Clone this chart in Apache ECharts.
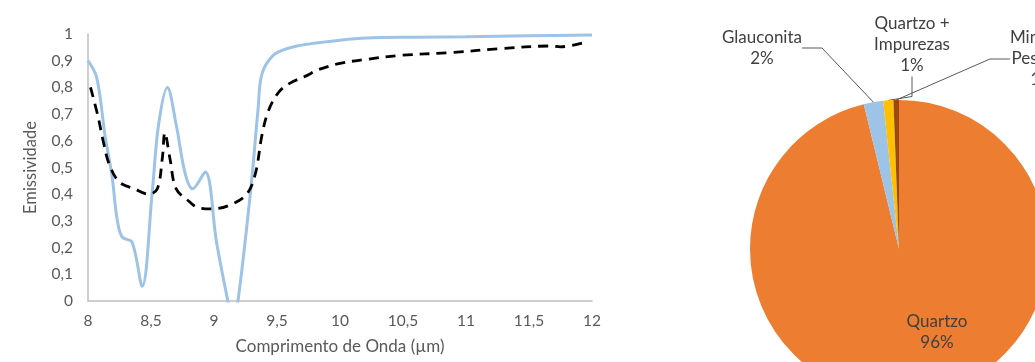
<!DOCTYPE html>
<html>
<head>
<meta charset="utf-8">
<script src="https://cdn.jsdelivr.net/npm/echarts@6/dist/echarts.min.js"></script>
<style>
html,body{margin:0;padding:0;background:#fff;}
#c{width:1035px;height:362px;}
</style>
</head>
<body>
<div id="c"></div>
<script>
// Line chart data (wavelength in µm, emissivity)
const solidX = [8.00, 8.07, 8.135, 8.19, 8.23, 8.27, 8.35, 8.43, 8.51, 8.56, 8.63, 8.70, 8.77, 8.83, 8.93, 9.02, 9.11, 9.15, 9.19, 9.29, 9.35, 9.38, 9.47, 9.60, 9.76, 10.0, 10.21, 10.6, 11.0, 11.5, 12.0];
const solidY = [0.90, 0.835, 0.62, 0.47, 0.31, 0.24, 0.22, 0.055, 0.41, 0.66, 0.80, 0.66, 0.48, 0.42, 0.483, 0.22, 0.00, -0.08, 0.00, 0.41, 0.72, 0.85, 0.92, 0.948, 0.963, 0.977, 0.985, 0.988, 0.99, 0.993, 0.996];
const dashX = [8.02, 8.08, 8.12, 8.17, 8.25, 8.37, 8.48, 8.55, 8.59, 8.61, 8.65, 8.70, 8.81, 8.87, 8.99, 9.13, 9.26, 9.33, 9.38, 9.43, 9.51, 9.60, 9.74, 9.82, 10.0, 10.21, 10.48, 10.87, 11.27, 11.67, 11.75, 11.95];
const dashY = [0.80, 0.69, 0.60, 0.51, 0.445, 0.42, 0.40, 0.42, 0.535, 0.63, 0.535, 0.42, 0.37, 0.35, 0.345, 0.36, 0.40, 0.48, 0.62, 0.71, 0.78, 0.815, 0.845, 0.865, 0.89, 0.905, 0.92, 0.93, 0.945, 0.955, 0.952, 0.97];
const xTicks = [8, 8.5, 9, 9.5, 10, 10.5, 11, 11.5, 12];

// Pie chart data
const pieNames = ['Quartzo', 'Glauconita', 'Quartzo +\nImpurezas', 'Minerais\nPesados'];
const pieValues = [96.3, 2.1, 1.1, 0.6];
const pieColors = ['#ED7D31', '#9DC3E6', '#FFC000', '#9A4A10'];

const FONT = 'Lato, "Open Sans", sans-serif';
const zip = (xs, ys) => xs.map((x, i) => [x, ys[i]]);

const labelPos = [
  {x: 937, y: 332},
  {x: 762, y: 48},
  {x: 912, y: 45},
  {x: 1042, y: 59}
];

const chart = echarts.init(document.getElementById('c'), null, {renderer: 'canvas'});
chart.setOption({
  animation: false,
  backgroundColor: '#ffffff',
  grid: {left: 88, right: 443, top: 34, bottom: 61, containLabel: false},
  xAxis: {
    type: 'value', min: 8, max: 12, interval: 0.5,
    name: 'Comprimento de Onda (µm)', nameLocation: 'middle', nameGap: 37,
    nameTextStyle: {color: '#595959', fontSize: 17, fontFamily: FONT},
    axisLine: {show: true, lineStyle: {color: '#BFBFBF', width: 1.5}},
    axisTick: {show: false},
    splitLine: {show: false},
    axisLabel: {color: '#595959', fontSize: 15.5, fontFamily: FONT, margin: 12,
      formatter: v => String(v).replace('.', ',')}
  },
  yAxis: {
    type: 'value', min: 0, max: 1, interval: 0.1,
    name: 'Emissividade', nameLocation: 'middle', nameGap: 49, nameRotate: 90,
    nameTextStyle: {color: '#595959', fontSize: 16.5, fontFamily: FONT},
    axisLine: {show: true, lineStyle: {color: '#BFBFBF', width: 1.5}},
    axisTick: {show: false},
    splitLine: {show: false},
    axisLabel: {color: '#595959', fontSize: 15.5, fontFamily: FONT, margin: 15,
      formatter: v => String(+v.toFixed(1)).replace('.', ',')}
  },
  series: [
    {
      type: 'line', data: zip(solidX, solidY), smooth: 0.35, showSymbol: false, clip: true,
      lineStyle: {color: '#9DC3E6', width: 3}
    },
    {
      type: 'line', data: zip(dashX, dashY), smooth: 0.35, showSymbol: false, clip: true,
      lineStyle: {color: '#000000', width: 2.8, type: [10, 7]}
    },
    {
      type: 'pie', center: [899, 249], radius: 149, startAngle: 90, clockwise: true,
      avoidLabelOverlap: false,
      data: pieNames.map((n, i) => ({
        name: n, value: pieValues[i],
        itemStyle: {color: pieColors[i]},
        labelLine: {show: i !== 0}
      })),
      label: {
        show: true, position: 'outside', color: '#404040', fontSize: 17, fontFamily: FONT,
        lineHeight: 21, align: 'center',
        formatter: p => p.name + '\n' + Math.round(p.percent) + '%'
      },
      labelLine: {show: true, length: 20, length2: 20, lineStyle: {color: '#595959', width: 1}},
      labelLayout: p => ({x: labelPos[p.dataIndex].x, y: labelPos[p.dataIndex].y, align: 'center', verticalAlign: 'middle'})
    }
  ]
});
</script>
</body>
</html>
